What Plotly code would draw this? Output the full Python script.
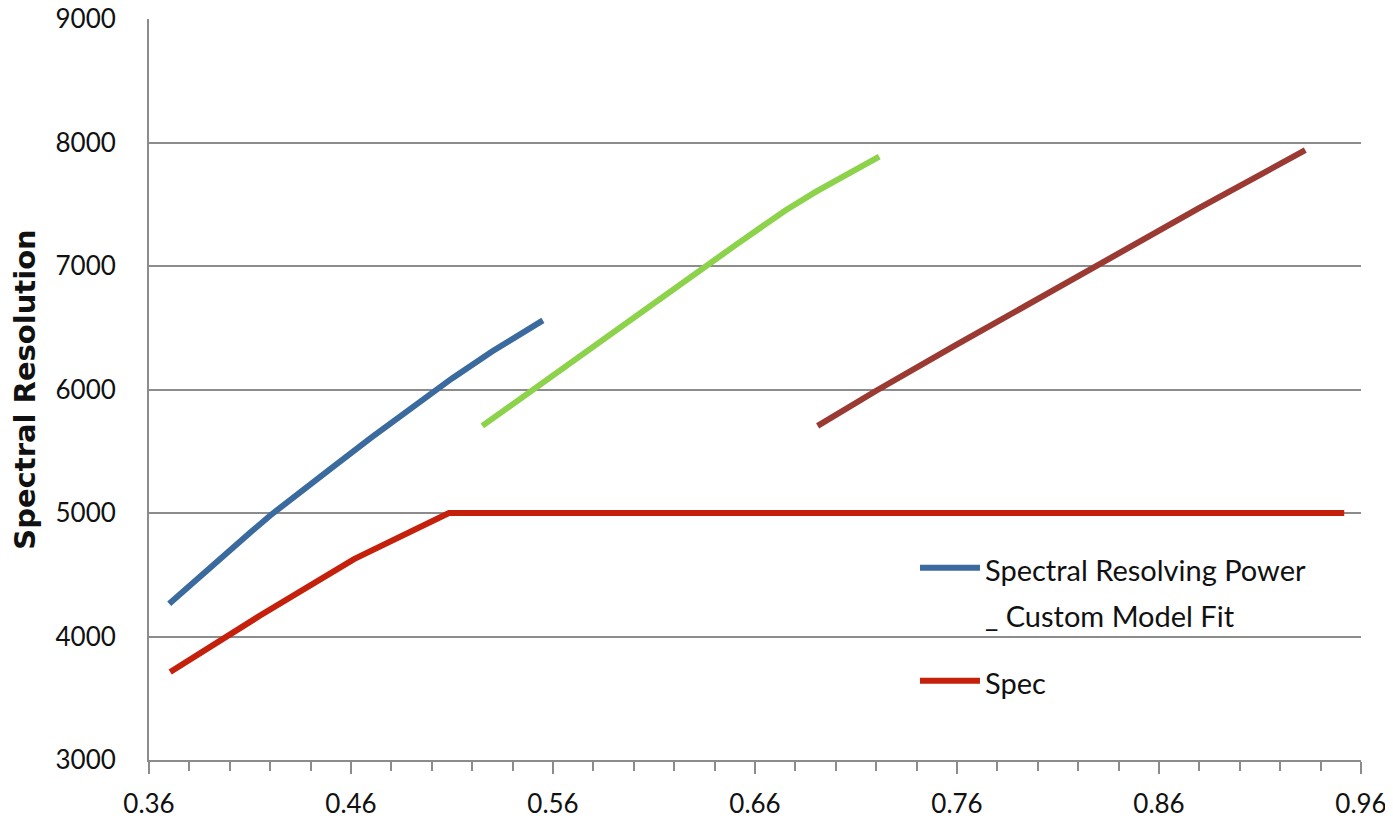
import plotly.graph_objects as go

# Series data (wavelength in microns, spectral resolution)
blue_x = [0.370, 0.390, 0.410, 0.420, 0.430, 0.450, 0.470, 0.490, 0.500, 0.510, 0.530, 0.555]
blue_y = [4265, 4560, 4840, 4980, 5110, 5360, 5610, 5850, 5970, 6090, 6310, 6560]

green_x = [0.525, 0.550, 0.575, 0.600, 0.625, 0.650, 0.675, 0.690, 0.7215]
green_y = [5705, 6000, 6295, 6585, 6875, 7165, 7450, 7600, 7885]

brown_x = [0.691, 0.720, 0.760, 0.800, 0.840, 0.880, 0.9324]
brown_y = [5705, 5990, 6365, 6735, 7110, 7470, 7938]

spec_x = [0.3705, 0.415, 0.4615, 0.5085, 0.9517]
spec_y = [3712, 4170, 4627, 5000, 5000]

x_ticks = [0.36, 0.46, 0.56, 0.66, 0.76, 0.86, 0.96]
y_ticks = [3000, 4000, 5000, 6000, 7000, 8000, 9000]

FONT = "Lato"
LW = 6

def lg(text):
    return "<span style='font-size:29px'>" + text + "</span>"

fig = go.Figure()
fig.add_trace(go.Scatter(x=blue_x, y=blue_y, mode="lines",
                         name=lg("Spectral Resolving Power") + "<br>" + lg("_ Custom Model Fit"),
                         line=dict(color="#3B6B9E", width=LW), legendgroup="a"))
fig.add_trace(go.Scatter(x=green_x, y=green_y, mode="lines", showlegend=False,
                         line=dict(color="#8CD24A", width=LW)))
fig.add_trace(go.Scatter(x=brown_x, y=brown_y, mode="lines", showlegend=False,
                         line=dict(color="#9A3A33", width=LW)))
fig.add_trace(go.Scatter(x=spec_x, y=spec_y, mode="lines", name=lg("Spec"),
                         line=dict(color="#C4200B", width=LW), legendgroup="b"))

fig.update_layout(
    width=1385, height=813,
    margin=dict(l=141, r=32, t=11, b=61),
    paper_bgcolor="white", plot_bgcolor="white",
    font=dict(family=FONT, size=26, color="#111111"),
    showlegend=True,
    legend=dict(x=0.632, y=0.299, xanchor="left", yanchor="top",
                bgcolor="rgba(0,0,0,0)", font=dict(family=FONT, size=35, color="#111111"),
                valign="top", tracegroupgap=19, itemwidth=60),
    xaxis=dict(range=[0.36, 0.96], tickvals=x_ticks,
               ticktext=[f"{v:.2f}" for v in x_ticks],
               showgrid=False, zeroline=False, automargin=False,
               ticklabeloverflow="allow",
               showline=True, linecolor="#8c8c8c", linewidth=2,
               ticks="outside", ticklen=12, tickwidth=2, tickcolor="#8c8c8c",
               minor=dict(dtick=0.02, tick0=0.36, ticks="outside", ticklen=9,
                          tickwidth=2, tickcolor="#8c8c8c", showgrid=False),
               tickfont=dict(family=FONT, size=26, color="#111111"),
               ticklabelstandoff=8),
    yaxis=dict(range=[3000, 9000], tickvals=y_ticks,
               showgrid=True, gridcolor="#8c8c8c", gridwidth=2, automargin=False,
               ticklabeloverflow="allow",
               zeroline=False, showline=True, linecolor="#8c8c8c", linewidth=2,
               ticks="", tickfont=dict(family=FONT, size=26, color="#111111"),
               ticklabelstandoff=26,
               title=dict(text="<b>Spectral Resolution</b>",
                          font=dict(family="DejaVu Sans", size=29, color="#111111"),
                          standoff=12)),
)

fig.write_html("out.html")
